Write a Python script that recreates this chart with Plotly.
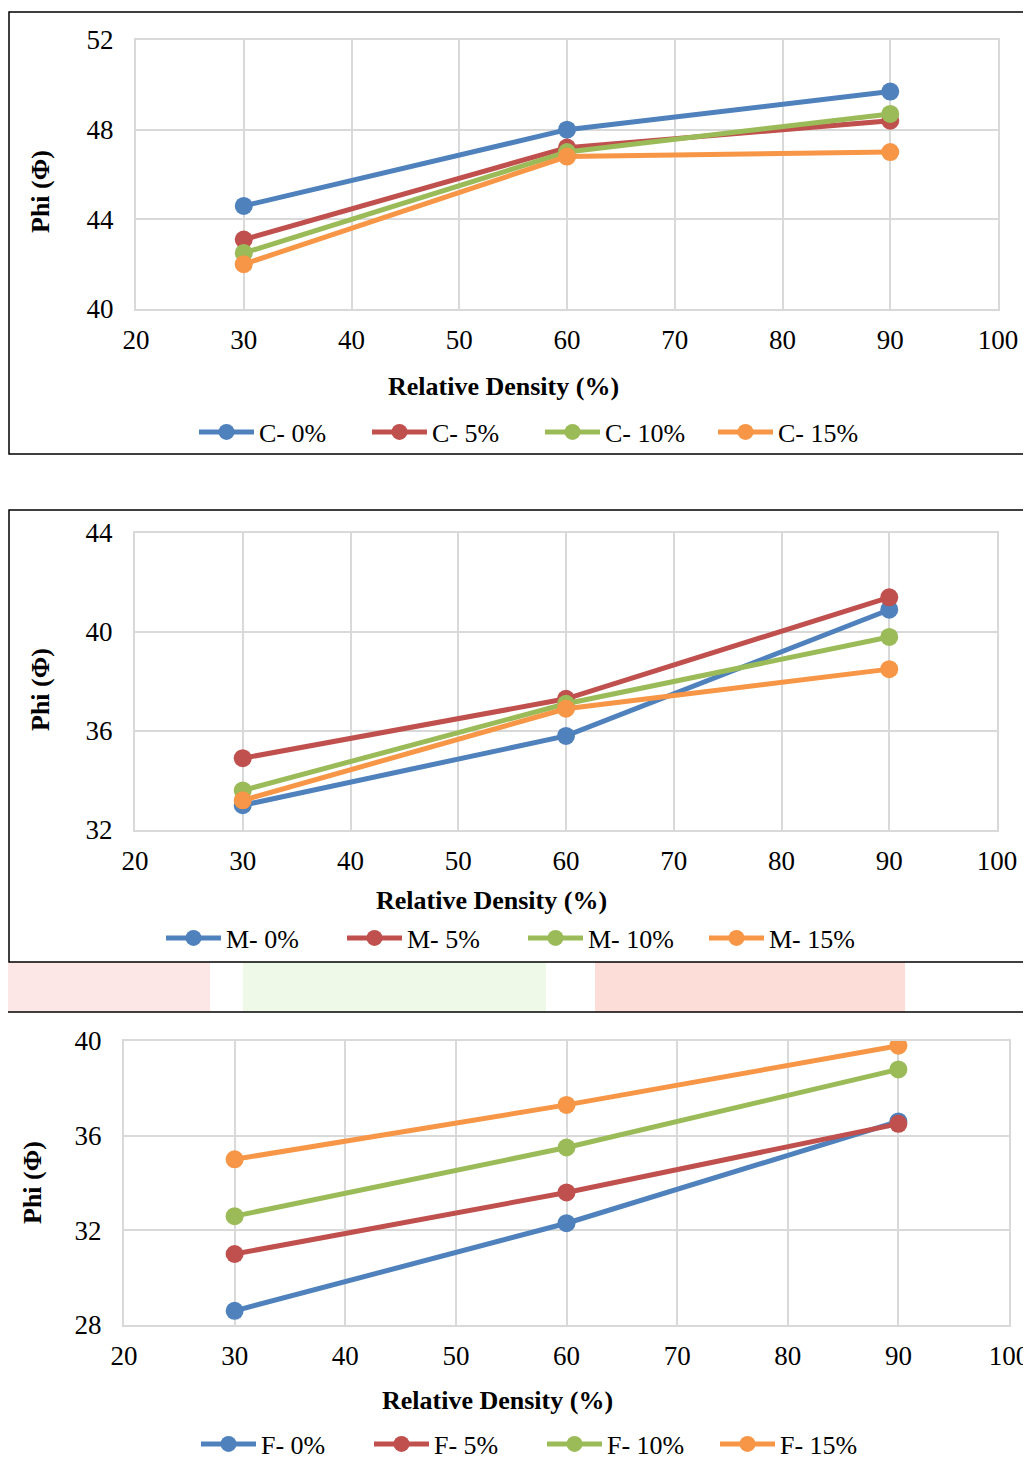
import plotly.graph_objects as go

# The page body has an 8px margin, so the figure is offset accordingly
OFF = 8
W, H = 1031 - OFF, 1465 - OFF

x_density = [30, 60, 90]

c_names = ["C- 0%", "C- 5%", "C- 10%", "C- 15%"]
c_0 = [44.6, 48.0, 49.7]
c_5 = [43.1, 47.2, 48.4]
c_10 = [42.5, 47.0, 48.7]
c_15 = [42.0, 46.8, 47.0]

m_names = ["M- 0%", "M- 5%", "M- 10%", "M- 15%"]
m_0 = [33.0, 35.8, 40.9]
m_5 = [34.9, 37.3, 41.4]
m_10 = [33.6, 37.1, 39.8]
m_15 = [33.2, 36.9, 38.5]

f_names = ["F- 0%", "F- 5%", "F- 10%", "F- 15%"]
f_0 = [28.6, 32.3, 36.6]
f_5 = [31.0, 33.6, 36.5]
f_10 = [32.6, 35.5, 38.8]
f_15 = [35.0, 37.3, 39.8]

colors = ["#4F81BD", "#C0504D", "#9BBB59", "#F79646"]
FONT = "Liberation Serif"


def px(v):
    return (v - OFF) / W


def py(v):
    return 1 - (v - OFF) / H


fig = go.Figure()

panels = [
    dict(names=c_names, series=[c_0, c_5, c_10, c_15], x=(136, 998), y=(40, 309),
         yr=[40, 52], legend="legend", xa="x", ya="y"),
    dict(names=m_names, series=[m_0, m_5, m_10, m_15], x=(135, 997), y=(533, 830),
         yr=[32, 44], legend="legend2", xa="x2", ya="y2"),
    dict(names=f_names, series=[f_0, f_5, f_10, f_15], x=(124, 1009), y=(1041, 1325),
         yr=[28, 40], legend="legend3", xa="x3", ya="y3"),
]

for p in panels:
    for name, vals, col in zip(p["names"], p["series"], colors):
        fig.add_trace(go.Scatter(
            x=x_density, y=vals, name=name, mode="lines+markers",
            line=dict(color=col, width=5),
            marker=dict(color=col, size=18),
            xaxis=p["xa"], yaxis=p["ya"], legend=p["legend"],
        ))

axis_common = dict(
    showgrid=True, gridcolor="#D9D9D9", gridwidth=2,
    showline=True, linecolor="#D9D9D9", linewidth=2, mirror=True,
    zeroline=False, ticks="",
    tickfont=dict(family=FONT, size=27, color="#000000"),
    fixedrange=True,
)

layout_axes = {}
for i, p in enumerate(panels):
    sfx = "" if i == 0 else str(i + 1)
    layout_axes["xaxis" + sfx] = dict(
        axis_common, domain=[px(p["x"][0]), px(p["x"][1])], range=[20, 100], dtick=10,
        tick0=20, anchor="y" + sfx, ticklabelstandoff=6,
    )
    layout_axes["yaxis" + sfx] = dict(
        axis_common, domain=[py(p["y"][1]), py(p["y"][0])], range=p["yr"], dtick=4,
        tick0=p["yr"][0], anchor="x" + sfx, ticklabelstandoff=15,
    )

legend_common = dict(
    orientation="h", xref="paper", yref="paper", xanchor="left", yanchor="middle",
    font=dict(family=FONT, size=26, color="#000000"), bgcolor="rgba(0,0,0,0)",
    itemwidth=55, entrywidthmode="pixels", traceorder="normal", tracegroupgap=0,
)

fig.update_layout(
    width=W, height=H,
    margin=dict(l=0, r=0, t=0, b=0, autoexpand=False),
    paper_bgcolor="white", plot_bgcolor="white",
    font=dict(family=FONT, size=26, color="#000000"),
    legend=dict(legend_common, x=px(194), y=py(432), entrywidth=103),
    legend2=dict(legend_common, x=px(161), y=py(938), entrywidth=111),
    legend3=dict(legend_common, x=px(196), y=py(1444), entrywidth=103),
    **layout_axes,
)

# watermark-like faded background patches between panels 2 and 3
patches = [
    (8, 962, 210, 1012, "#FDE6E6"),
    (243, 962, 546, 1012, "#EEF9E8"),
    (595, 962, 905, 1012, "#FDDDD7"),
]
for x0, y0, x1, y1, col in patches:
    fig.add_shape(type="rect", xref="paper", yref="paper", x0=px(x0), x1=px(x1),
                  y0=py(y1), y1=py(y0), fillcolor=col, line=dict(width=0), layer="below")

# chart frames
for (x0, y0, x1, y1) in [(9, 12, 1033, 454), (9, 510, 1033, 962)]:
    fig.add_shape(type="rect", xref="paper", yref="paper", x0=px(x0), x1=px(x1),
                  y0=py(y1), y1=py(y0), line=dict(color="#000000", width=1.5),
                  fillcolor="rgba(0,0,0,0)", layer="above")
fig.add_shape(type="line", xref="paper", yref="paper", x0=0, x1=1, y0=py(1012), y1=py(1012),
              line=dict(color="#000000", width=1.5))

# axis titles
titles = [
    (503, 386, 40, 192),
    (491, 900, 40, 690),
    (497, 1400, 32, 1183),
]
for xt_x, xt_y, yt_x, yt_y in titles:
    fig.add_annotation(text="<b>Relative Density (%)</b>", xref="paper", yref="paper",
                       x=px(xt_x), y=py(xt_y), showarrow=False, xanchor="center", yanchor="middle",
                       font=dict(family=FONT, size=26, color="#000000"))
    fig.add_annotation(text="<b>Phi (Φ)</b>", xref="paper", yref="paper",
                       x=px(yt_x), y=py(yt_y), showarrow=False, xanchor="center", yanchor="middle",
                       textangle=-90, font=dict(family=FONT, size=26, color="#000000"))

fig.write_html("out.html")
